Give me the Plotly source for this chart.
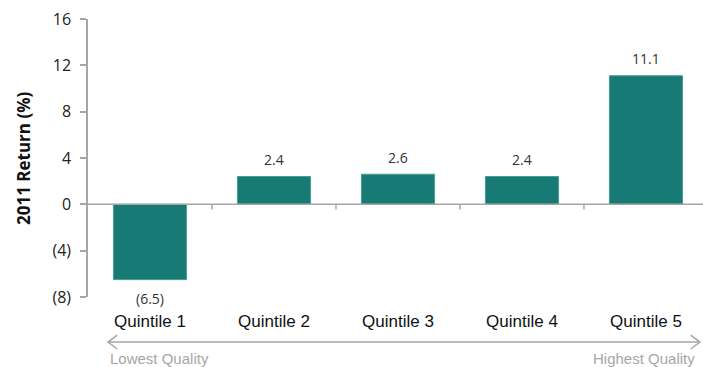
import plotly.graph_objects as go

categories = ["Quintile 1", "Quintile 2", "Quintile 3", "Quintile 4", "Quintile 5"]
returns = [-6.5, 2.4, 2.6, 2.4, 11.1]
ytick_vals = [-8, -4, 0, 4, 8, 12, 16]
ytick_text = ["(8)", "(4)", "0", "4", "8", "12", "16"]


def fmt(v):
    return f"({abs(v):.1f})" if v < 0 else f"{v:.1f}"


labels = [fmt(v) for v in returns]
xs = list(range(len(categories)))

fig = go.Figure()
fig.add_trace(go.Bar(
    x=xs, y=returns, width=0.59,
    marker=dict(color="#187a74", line=dict(color="#4a9d97", width=1)),
    hoverinfo="skip",
))

shapes = []
# zero line
shapes.append(dict(type="line", xref="paper", yref="y", x0=0, x1=1, y0=0, y1=0,
                   line=dict(color="#a6a6a6", width=1.5)))
# category tick marks on the zero line
for i in range(len(categories) - 1):
    shapes.append(dict(type="line", xref="x", yref="y", x0=i + 0.5, x1=i + 0.5,
                       y0=0, y1=-0.45, line=dict(color="#a6a6a6", width=1.5)))
# double-headed arrow below the categories
ya = -0.162
xl, xr = 0.0325, 0.995
dx, dy = 0.015, 0.025
line_style = dict(color="#a6a6a6", width=1.5)
shapes.append(dict(type="line", xref="paper", yref="paper", x0=xl, x1=xr, y0=ya, y1=ya, line=line_style))
shapes.append(dict(type="path", xref="paper", yref="paper",
                   path=f"M {xl+dx},{ya+dy} L {xl},{ya} L {xl+dx},{ya-dy}", line=line_style))
shapes.append(dict(type="path", xref="paper", yref="paper",
                   path=f"M {xr-dx},{ya+dy} L {xr},{ya} L {xr-dx},{ya-dy}", line=line_style))

annotations = [
    dict(text="Lowest Quality", xref="paper", yref="paper", x=xl, y=-0.222,
         xanchor="left", yanchor="middle", showarrow=False,
         font=dict(family="Liberation Sans Narrow, Liberation Sans, sans-serif", size=15, color="#a6a6a6")),
    dict(text="Highest Quality", xref="paper", yref="paper", x=xr - 0.004, y=-0.222,
         xanchor="right", yanchor="middle", showarrow=False,
         font=dict(family="Liberation Sans Narrow, Liberation Sans, sans-serif", size=15, color="#a6a6a6")),
    dict(text="<b>2011 Return (%)</b>", xref="paper", yref="paper", x=0, y=0.5,
         xshift=-65, textangle=-90, showarrow=False, xanchor="center", yanchor="middle",
         font=dict(family="Open Sans, sans-serif", size=17, color="#111111")),
]
for x, v, t in zip(xs, returns, labels):
    annotations.append(dict(text=t, xref="x", yref="y", x=x, y=v, showarrow=False,
                            xanchor="center", yanchor="middle", yshift=17 if v >= 0 else -19,
                            font=dict(family="Open Sans, sans-serif", size=14, color="#333333")))

fig.update_layout(
    width=703, height=367,
    margin=dict(l=88, r=0, t=19, b=70),
    plot_bgcolor="white", paper_bgcolor="white",
    showlegend=False,
    shapes=shapes, annotations=annotations,
    xaxis=dict(range=[-0.5, 4.46], tickmode="array", tickvals=xs,
               ticktext=categories, showgrid=False, zeroline=False, showline=False,
               ticks="", tickfont=dict(family="Liberation Sans, sans-serif", size=17, color="#111111"),
               ticklabelstandoff=12),
    yaxis=dict(range=[-8, 16], tickmode="array", tickvals=ytick_vals, ticktext=ytick_text,
               showgrid=False, zeroline=False, showline=True, linecolor="#a6a6a6", linewidth=1.5,
               ticks="outside", ticklen=6, tickcolor="#a6a6a6", tickwidth=1.5,
               tickfont=dict(family="Open Sans, sans-serif", size=16, color="#222222"),
               ticklabelstandoff=6),
)

fig.write_html("out.html")
